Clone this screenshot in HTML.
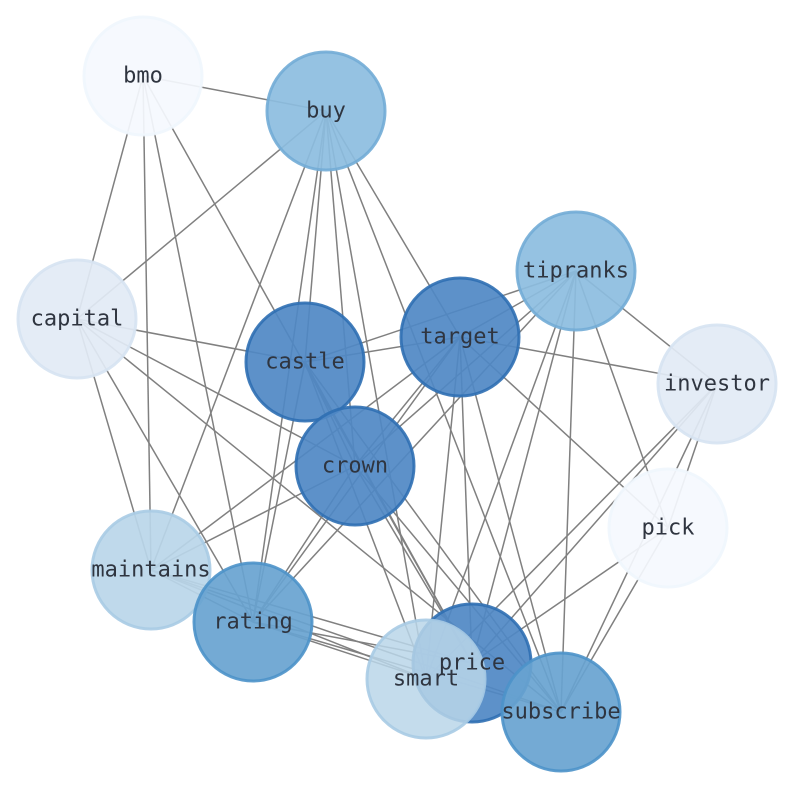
<!DOCTYPE html>
<html><head><meta charset="utf-8"><style>html,body{margin:0;padding:0;background:#fff;}svg{display:block}</style></head>
<body>
<svg width="794" height="790" viewBox="0 0 794 790" xmlns="http://www.w3.org/2000/svg">
<g stroke="#808080" stroke-width="1.5" fill="none">
<line x1="143" y1="76" x2="326" y2="111"/>
<line x1="143" y1="76" x2="77" y2="319"/>
<line x1="143" y1="76" x2="151" y2="570"/>
<line x1="143" y1="76" x2="253" y2="622"/>
<line x1="143" y1="76" x2="472" y2="663"/>
<line x1="326" y1="111" x2="77" y2="319"/>
<line x1="326" y1="111" x2="305" y2="362"/>
<line x1="326" y1="111" x2="355" y2="466"/>
<line x1="326" y1="111" x2="151" y2="570"/>
<line x1="326" y1="111" x2="253" y2="622"/>
<line x1="326" y1="111" x2="426" y2="679"/>
<line x1="326" y1="111" x2="561" y2="712"/>
<line x1="326" y1="111" x2="460" y2="337"/>
<line x1="576" y1="271" x2="305" y2="362"/>
<line x1="576" y1="271" x2="460" y2="337"/>
<line x1="576" y1="271" x2="355" y2="466"/>
<line x1="576" y1="271" x2="253" y2="622"/>
<line x1="576" y1="271" x2="472" y2="663"/>
<line x1="576" y1="271" x2="561" y2="712"/>
<line x1="576" y1="271" x2="717" y2="384"/>
<line x1="576" y1="271" x2="668" y2="528"/>
<line x1="576" y1="271" x2="426" y2="679"/>
<line x1="77" y1="319" x2="305" y2="362"/>
<line x1="77" y1="319" x2="355" y2="466"/>
<line x1="77" y1="319" x2="151" y2="570"/>
<line x1="77" y1="319" x2="253" y2="622"/>
<line x1="77" y1="319" x2="561" y2="712"/>
<line x1="460" y1="337" x2="305" y2="362"/>
<line x1="460" y1="337" x2="355" y2="466"/>
<line x1="460" y1="337" x2="717" y2="384"/>
<line x1="460" y1="337" x2="253" y2="622"/>
<line x1="460" y1="337" x2="472" y2="663"/>
<line x1="460" y1="337" x2="426" y2="679"/>
<line x1="460" y1="337" x2="561" y2="712"/>
<line x1="460" y1="337" x2="668" y2="528"/>
<line x1="460" y1="337" x2="151" y2="570"/>
<line x1="305" y1="362" x2="355" y2="466"/>
<line x1="305" y1="362" x2="253" y2="622"/>
<line x1="305" y1="362" x2="472" y2="663"/>
<line x1="305" y1="362" x2="561" y2="712"/>
<line x1="305" y1="362" x2="426" y2="679"/>
<line x1="717" y1="384" x2="472" y2="663"/>
<line x1="717" y1="384" x2="561" y2="712"/>
<line x1="717" y1="384" x2="426" y2="679"/>
<line x1="717" y1="384" x2="668" y2="528"/>
<line x1="355" y1="466" x2="253" y2="622"/>
<line x1="355" y1="466" x2="151" y2="570"/>
<line x1="355" y1="466" x2="472" y2="663"/>
<line x1="355" y1="466" x2="561" y2="712"/>
<line x1="668" y1="528" x2="472" y2="663"/>
<line x1="668" y1="528" x2="561" y2="712"/>
<line x1="151" y1="570" x2="253" y2="622"/>
<line x1="151" y1="570" x2="472" y2="663"/>
<line x1="151" y1="570" x2="561" y2="712"/>
<line x1="151" y1="570" x2="426" y2="679"/>
<line x1="253" y1="622" x2="472" y2="663"/>
<line x1="253" y1="622" x2="426" y2="679"/>
<line x1="253" y1="622" x2="561" y2="712"/>
</g>
<g stroke-width="3" fill-opacity="0.92" stroke-opacity="0.9">
<circle cx="143" cy="76" r="59" fill="#f5f9fe" stroke="#f0f6fd"/>
<circle cx="326" cy="111" r="59" fill="#8cbddf" stroke="#72acd6"/>
<circle cx="576" cy="271" r="59" fill="#8cbddf" stroke="#72acd6"/>
<circle cx="77" cy="319" r="59" fill="#e2eaf5" stroke="#d6e3f2"/>
<circle cx="460" cy="337" r="59" fill="#4f88c4" stroke="#2f6fb3"/>
<circle cx="305" cy="362" r="59" fill="#4f88c4" stroke="#2f6fb3"/>
<circle cx="717" cy="384" r="59" fill="#e2eaf5" stroke="#d6e3f2"/>
<circle cx="355" cy="466" r="59" fill="#4f88c4" stroke="#2f6fb3"/>
<circle cx="668" cy="528" r="59" fill="#f5f9fe" stroke="#f0f6fd"/>
<circle cx="151" cy="570" r="59" fill="#bad6e9" stroke="#a8cbe4"/>
<circle cx="253" cy="622" r="59" fill="#68a3d0" stroke="#4d92c9"/>
<circle cx="472" cy="663" r="59" fill="#4f88c4" stroke="#2f6fb3"/>
<circle cx="561" cy="712" r="59" fill="#68a3d0" stroke="#4d92c9"/>
<circle cx="426" cy="679" r="59" fill="#bad6e9" stroke="#a8cbe4" fill-opacity="0.85"/>
</g>
<g font-family="'DejaVu Sans Mono','Liberation Mono',monospace" font-size="22" fill="#2f3540" text-anchor="middle" dominant-baseline="central">
<text x="143" y="76">bmo</text>
<text x="326" y="111">buy</text>
<text x="576" y="271">tipranks</text>
<text x="77" y="319">capital</text>
<text x="460" y="337">target</text>
<text x="305" y="362">castle</text>
<text x="717" y="384">investor</text>
<text x="355" y="466">crown</text>
<text x="668" y="528">pick</text>
<text x="151" y="570">maintains</text>
<text x="253" y="622">rating</text>
<text x="472" y="663">price</text>
<text x="561" y="712">subscribe</text>
<text x="426" y="679">smart</text>
</g>
</svg>
</body></html>
